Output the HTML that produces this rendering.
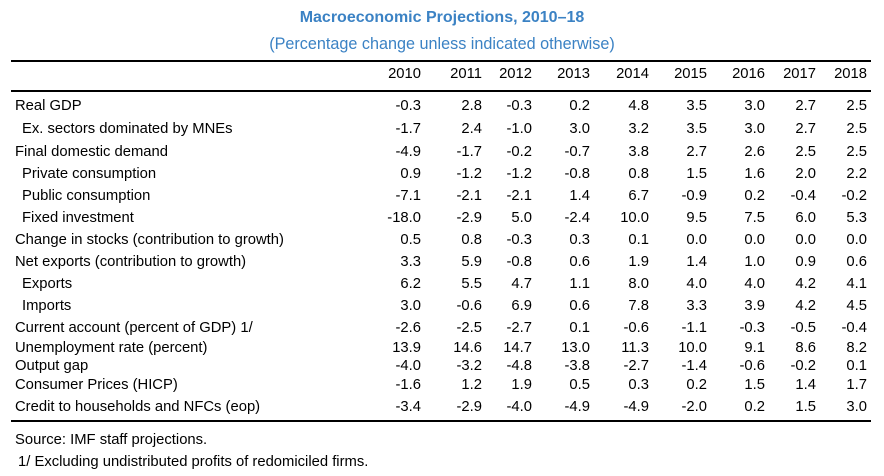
<!DOCTYPE html>
<html><head><meta charset="utf-8"><style>
body{margin:0;width:884px;height:476px;background:#fff;position:relative;overflow:hidden;font-family:"Liberation Sans",sans-serif;color:#000}
.t{position:absolute;white-space:nowrap;font-size:14.8px;line-height:16px}
.r{text-align:right}
.ln{position:absolute;left:11px;width:860px;background:#000}
</style></head><body>
<div class="t" style="left:0;width:884px;text-align:center;top:10px;font-weight:bold;color:#3b82c4;font-size:16px">Macroeconomic Projections, 2010–18</div>
<div class="t" style="left:0;width:884px;text-align:center;top:36px;color:#3b82c4;font-size:16.2px">(Percentage change unless indicated otherwise)</div>
<div class="ln" style="top:60px;height:2px"></div>
<div class="ln" style="top:90px;height:2px"></div>
<div class="ln" style="top:420px;height:2px"></div>
<div class="t" style="left:15px;top:432px">Source: IMF staff projections.</div>
<div class="t" style="left:18px;top:454px">1/ Excluding undistributed profits of redomiciled firms.</div>
<div id="tbl"></div>
<script>
const years=["2010","2011","2012","2013","2014","2015","2016","2017","2018"];
const labels=["Real GDP","Ex. sectors dominated by MNEs","Final domestic demand","Private consumption","Public consumption","Fixed investment","Change in stocks (contribution to growth)","Net exports (contribution to growth)","Exports","Imports","Current account (percent of GDP) 1/","Unemployment rate (percent)","Output gap","Consumer Prices (HICP)","Credit to households and NFCs (eop)"];
const indent=[0,1,0,1,1,1,0,0,1,1,0,0,0,0,0];
const values=[
["-0.3","2.8","-0.3","0.2","4.8","3.5","3.0","2.7","2.5"],
["-1.7","2.4","-1.0","3.0","3.2","3.5","3.0","2.7","2.5"],
["-4.9","-1.7","-0.2","-0.7","3.8","2.7","2.6","2.5","2.5"],
["0.9","-1.2","-1.2","-0.8","0.8","1.5","1.6","2.0","2.2"],
["-7.1","-2.1","-2.1","1.4","6.7","-0.9","0.2","-0.4","-0.2"],
["-18.0","-2.9","5.0","-2.4","10.0","9.5","7.5","6.0","5.3"],
["0.5","0.8","-0.3","0.3","0.1","0.0","0.0","0.0","0.0"],
["3.3","5.9","-0.8","0.6","1.9","1.4","1.0","0.9","0.6"],
["6.2","5.5","4.7","1.1","8.0","4.0","4.0","4.2","4.1"],
["3.0","-0.6","6.9","0.6","7.8","3.3","3.9","4.2","4.5"],
["-2.6","-2.5","-2.7","0.1","-0.6","-1.1","-0.3","-0.5","-0.4"],
["13.9","14.6","14.7","13.0","11.3","10.0","9.1","8.6","8.2"],
["-4.0","-3.2","-4.8","-3.8","-2.7","-1.4","-0.6","-0.2","0.1"],
["-1.6","1.2","1.9","0.5","0.3","0.2","1.5","1.4","1.7"],
["-3.4","-2.9","-4.0","-4.9","-4.9","-2.0","0.2","1.5","3.0"]];
const colRight=[421,482,532,590,649,707,765,816,867];
const rowTop=[98,121,144,166,188,210,232,254,276,298,320,340,358,377,399];
const tbl=document.getElementById('tbl');
function cell(txt,left,top,right){
 const d=document.createElement('div');d.className='t'+(right?' r':'');
 d.textContent=txt;
 if(right){d.style.left=(left-80)+'px';d.style.width='80px';}else d.style.left=left+'px';
 d.style.top=top+'px';tbl.appendChild(d);return d;}
years.forEach((y,i)=>{const d=cell(y,colRight[i],66,true);

});
labels.forEach((l,r)=>{const d=cell(l,indent[r]?22:15,rowTop[r],false);


values[r].forEach((v,c)=>{const e=cell(v,colRight[c],rowTop[r],true);

});});
</script>
</body></html>
